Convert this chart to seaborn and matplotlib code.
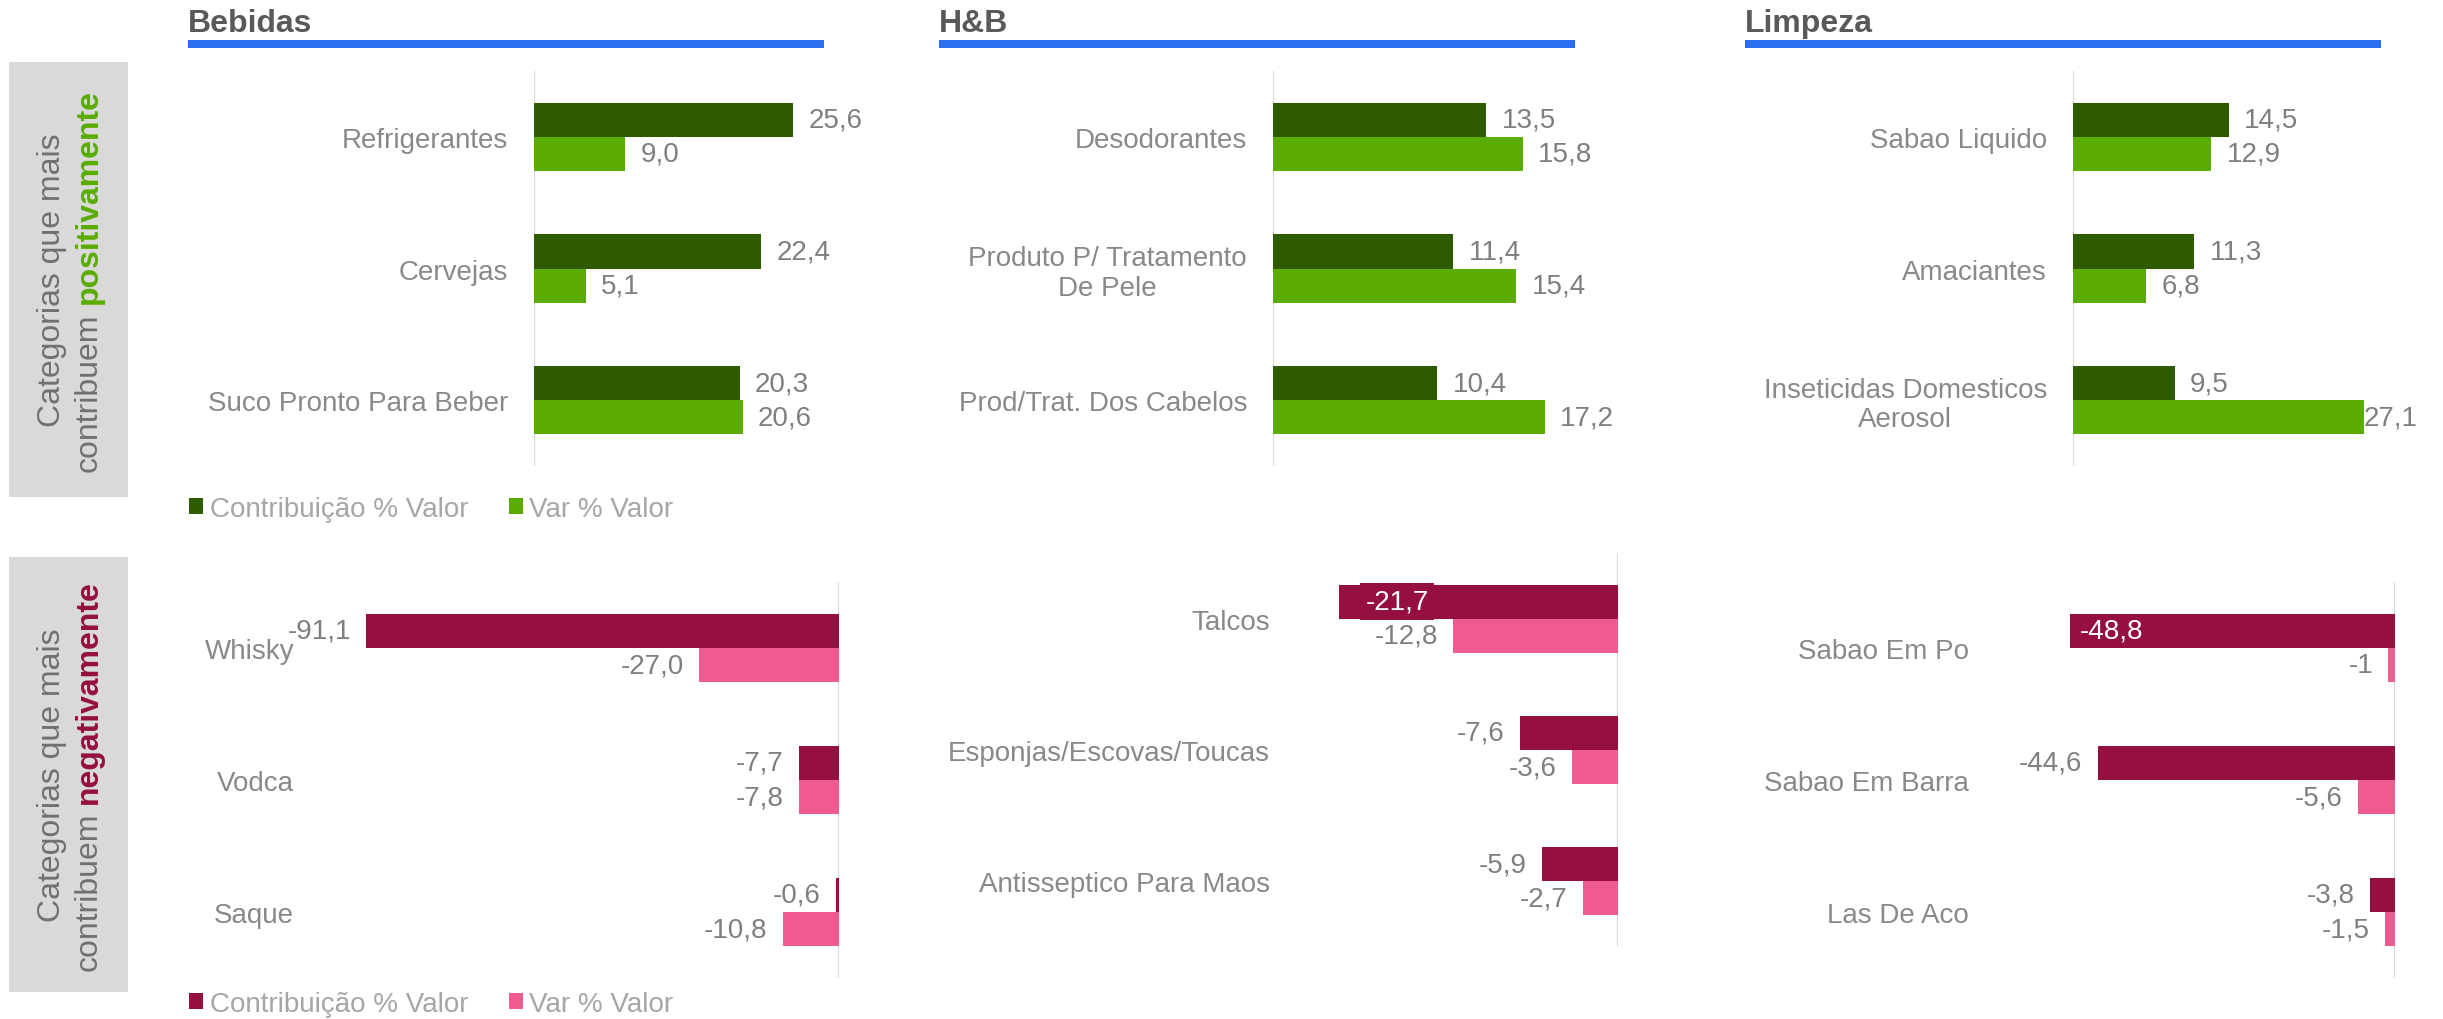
import matplotlib
matplotlib.use("Agg")
import matplotlib.pyplot as plt
from matplotlib.patches import Rectangle, Patch
import pandas as pd
import seaborn as sns

# ---- dados ----
bebidas_pos_cat = ["Refrigerantes", "Cervejas", "Suco Pronto Para Beber"]
bebidas_pos_contrib = [25.6, 22.4, 20.3]
bebidas_pos_var = [9.0, 5.1, 20.6]

hb_pos_cat = ["Desodorantes", "Produto P/ Tratamento\nDe Pele", "Prod/Trat. Dos Cabelos"]
hb_pos_contrib = [13.5, 11.4, 10.4]
hb_pos_var = [15.8, 15.4, 17.2]

limpeza_pos_cat = ["Sabao Liquido", "Amaciantes", "Inseticidas Domesticos\nAerosol"]
limpeza_pos_contrib = [14.5, 11.3, 9.5]
limpeza_pos_var = [12.9, 6.8, 27.1]

bebidas_neg_cat = ["Whisky", "Vodca", "Saque"]
bebidas_neg_contrib = [-91.1, -7.7, -0.6]
bebidas_neg_var = [-27.0, -7.8, -10.8]

hb_neg_cat = ["Talcos", "Esponjas/Escovas/Toucas", "Antisseptico Para Maos"]
hb_neg_contrib = [-21.7, -7.6, -5.9]
hb_neg_var = [-12.8, -3.6, -2.7]

limpeza_neg_cat = ["Sabao Em Po", "Sabao Em Barra", "Las De Aco"]
limpeza_neg_contrib = [-48.8, -44.6, -3.8]
limpeza_neg_var = [-1, -5.6, -1.5]

secoes = ["Bebidas", "H&B", "Limpeza"]
series = ["Contribuição % Valor", "Var % Valor"]

# ---- estilo ----
verde_escuro = "#2e5a00"
verde_claro = "#5aac00"
vinho = "#950f40"
rosa = "#ef5a91"
azul = "#2c6ef2"
cinza_cat = "#898989"
cinza_val = "#7f7f7f"

sns.set_style("white")
plt.rcParams["font.family"] = ["Liberation Sans", "DejaVu Sans"]

W, H = 2443, 1020
fig = plt.figure(figsize=(W / 100, H / 100), dpi=100)


def px_rect(x0, x1, y0, y1):
    return [x0 / W, 1 - y1 / H, (x1 - x0) / W, (y1 - y0) / H]


def fmt(v):
    return str(v) if isinstance(v, int) else f"{v:.1f}".replace(".", ",")


def painel(rect, cats, contrib, var, xlim, cores, dentro=None):
    ax = fig.add_axes(rect)
    df = pd.DataFrame({
        "categoria": cats * 2,
        "serie": [series[0]] * len(cats) + [series[1]] * len(cats),
        "valor": contrib + var,
    })
    sns.barplot(data=df, x="valor", y="categoria", hue="serie", order=cats,
                hue_order=series, orient="h", palette=cores, width=0.52,
                saturation=1, errorbar=None, legend=False, linewidth=0, ax=ax)
    ax.set_xlim(*xlim)
    ax.set_ylim(2.5, -0.5)
    ax.axvline(0, color="#d9d9d9", lw=1.5, zorder=0)
    for s in ax.spines.values():
        s.set_visible(False)
    ax.set_xticks([])
    ax.set_xlabel("")
    ax.set_ylabel("")
    ax.tick_params(axis="y", length=0, pad=18.7, labelsize=20, labelcolor=cinza_cat)
    for lab in ax.get_yticklabels():
        lab.set_multialignment("center")
        lab.set_linespacing(1.15)

    textos = []
    for i, (cont, vals) in enumerate(zip(ax.containers, (contrib, var))):
        labs = [fmt(v) for v in vals]
        if dentro is not None and i == 0:
            labs[dentro[0]] = ""
        textos.append(ax.bar_label(cont, labels=labs, padding=11, fontsize=20, color=cinza_val))
    if dentro is not None:
        idx, desloc, caixa = dentro
        p = ax.containers[0][idx]
        bbox = dict(boxstyle="square,pad=0.2", fc=cores[0], ec="none") if caixa else None
        ax.annotate(fmt(contrib[idx]), xy=(p.get_x() + p.get_width(), p.get_y() + p.get_height() / 2),
                    xytext=(desloc, 0), textcoords="offset points", ha="left", va="center",
                    color="white", fontsize=20, bbox=bbox)
    return ax, textos


# linha superior: contribuem positivamente
cores_pos = [verde_escuro, verde_claro]
painel(px_rect(534, 838, 72, 467), bebidas_pos_cat, bebidas_pos_contrib, bebidas_pos_var, (0, 30), cores_pos)
painel(px_rect(1273, 1589, 72, 467), hb_pos_cat, hb_pos_contrib, hb_pos_var, (0, 20), cores_pos)
ax_l, txt_l = painel(px_rect(2073, 2395, 72, 467), limpeza_pos_cat, limpeza_pos_contrib, limpeza_pos_var, (0, 30), cores_pos)
txt_l[1][2].xyann = (0, 0)  # rotulo 27,1 encostado na barra

# linha inferior: contribuem negativamente
cores_neg = [vinho, rosa]
painel(px_rect(320, 839, 583, 979), bebidas_neg_cat, bebidas_neg_contrib, bebidas_neg_var, (-100, 0), cores_neg)
painel(px_rect(1296, 1618, 554, 948), hb_neg_cat, hb_neg_contrib, hb_neg_var, (-25, 0), cores_neg,
       dentro=(0, 19.5, True))
painel(px_rect(1995, 2395, 583, 979), limpeza_neg_cat, limpeza_neg_contrib, limpeza_neg_var, (-60, 0), cores_neg,
       dentro=(0, 7, False))

# titulos com linha azul
for nome, x0 in zip(secoes, [188, 939, 1745]):
    fig.text(x0 / W, 1 - 32 / H, nome, fontsize=23, fontweight="bold", color="#595959", va="baseline")
    fig.patches.append(Rectangle((x0 / W, 1 - 49 / H), 636 / W, 8 / H, transform=fig.transFigure,
                                 facecolor=azul, edgecolor="none"))

# legendas
for y_px, cores in [(510, cores_pos), (1005, cores_neg)]:
    handles = [Patch(facecolor=c, edgecolor="none") for c in cores]
    fig.legend(handles, series, loc="center left", bbox_to_anchor=(189 / W, 1 - y_px / H), ncol=2,
               frameon=False, fontsize=20, labelcolor="#a6a6a6", handlelength=0.5, handleheight=0.5,
               handletextpad=0.25, columnspacing=1.45, borderpad=0, borderaxespad=0)

# caixas cinza laterais
pares = []
for (y0, y1), destaque, cor in [((63, 498), "positivamente", verde_claro), ((558, 993), "negativamente", vinho)]:
    fig.patches.append(Rectangle((9 / W, 1 - y1 / H), 119 / W, (y1 - y0) / H, transform=fig.transFigure,
                                 facecolor="#d9d9d9", edgecolor="none", zorder=0))
    yc = (y0 + y1) / 2
    fig.text(52 / W, 1 - yc / H, "Categorias que mais", rotation=90, ha="center", va="center",
             fontsize=23, color="#707070")
    t1 = fig.text(89 / W, 1 - yc / H, "contribuem", rotation=90, ha="center", va="bottom",
                  fontsize=23, color="#707070")
    t2 = fig.text(89 / W, 1 - yc / H, destaque, rotation=90, ha="center", va="bottom",
                  fontsize=23, fontweight="bold", color=cor)
    pares.append((yc, t1, t2))

fig.canvas.draw()
r = fig.canvas.get_renderer()
espaco = 0.278 * 23 * 100 / 72
for yc, t1, t2 in pares:
    h1 = t1.get_window_extent(r).height
    h2 = t2.get_window_extent(r).height
    base = (H - yc) - (h1 + espaco + h2) / 2
    t1.set_y(base / H)
    t2.set_y((base + h1 + espaco) / H)

fig.savefig("out.png", dpi=100)
